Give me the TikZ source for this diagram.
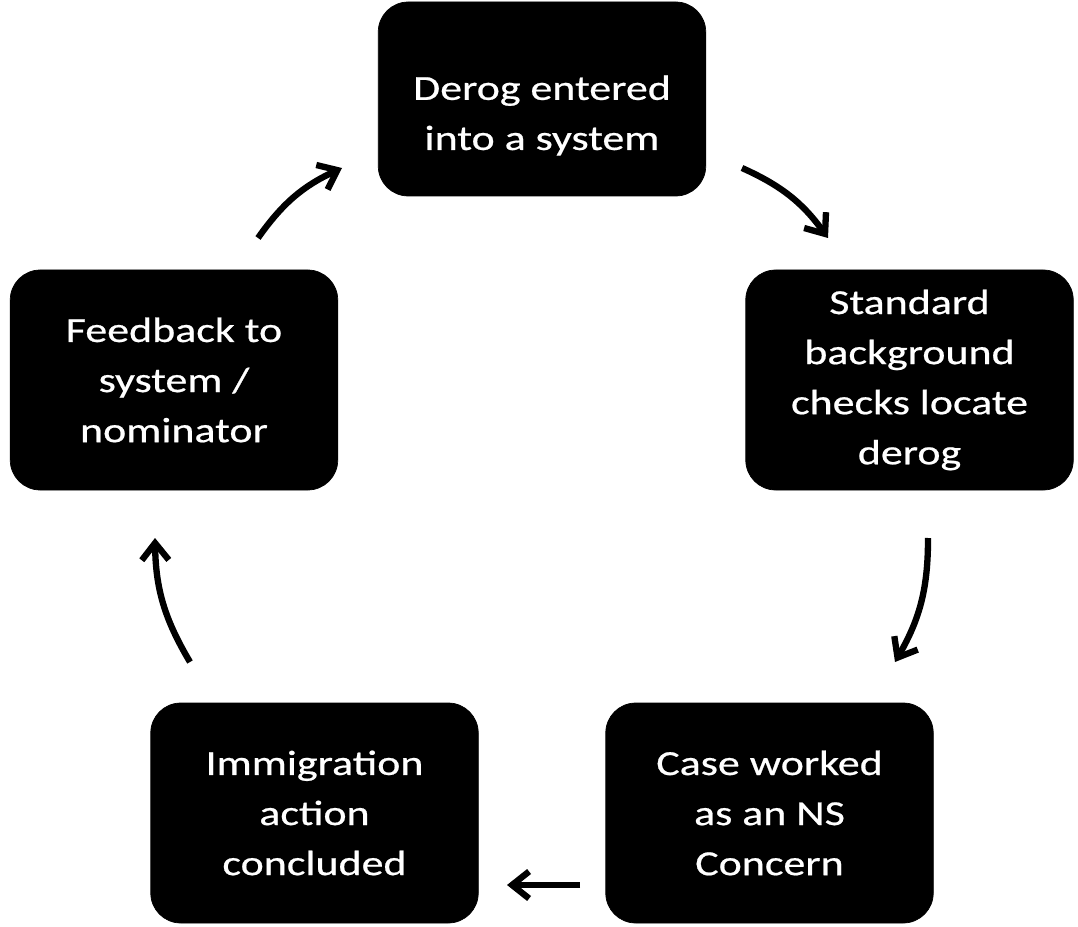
\documentclass[tikz,border=0pt]{standalone}
\usepackage{fontspec}
\newfontfamily\boxfont{Carlito}[FakeStretch=1.25,FakeBold=0.6]
\usetikzlibrary{arrows.meta}

\begin{document}
\begin{tikzpicture}[
  >={Straight Barb[length=3.4mm,width=5.4mm]},
  every node/.style={font=\boxfont\fontsize{20}{28.5}\selectfont},
  stage/.style={draw, fill=black, text=white, rounded corners=0.6cm, minimum width=6.55cm, minimum height=4.4cm, align=center, inner sep=4pt},
  flow/.style={->, line width=3.6pt}
]
\useasboundingbox (0,0) rectangle (21.56,-18.54);

% Stages, clockwise from the top
\node[stage, minimum height=3.88cm] (derog) at (10.84,-1.98)
  {\rule{0pt}{1.15cm}Derog entered\\into a system};
\node[stage] (checks) at (18.19,-7.6)
  {Standard\\background\\checks locate\\derog};
\node[stage] (nscase) at (15.39,-16.26)
  {Case worked\\as an NS\\Concern};
\node[stage] (immig) at (6.29,-16.26)
  {Immigration\\action\\concluded};
\node[stage] (feedback) at (3.48,-7.6)
  {Feedback to\\system /\\nominator};

% Loose ends of the cycle arrows
\coordinate (fb-out) at (5.16,-4.76);   \coordinate (derog-in) at (6.84,-3.36);
\coordinate (derog-out) at (14.84,-3.36); \coordinate (checks-in) at (16.56,-4.76);
\coordinate (checks-out) at (18.56,-10.76); \coordinate (ns-in) at (17.9,-13.24);
\coordinate (ns-out) at (11.6,-17.7);    \coordinate (immig-in) at (10.14,-17.7);
\coordinate (immig-out) at (3.8,-13.24); \coordinate (fb-in) at (3.1,-10.76);

% Cycle arrows
\draw[flow] (fb-out) to[bend left=15] (derog-in);
\draw[flow] (derog-out) to[bend left=15] (checks-in);
\draw[flow] (checks-out) to[bend left=15] (ns-in);
\draw[flow] (ns-out) -- (immig-in);
\draw[flow] (immig-out) to[bend left=15] (fb-in);

\end{tikzpicture}
\end{document}
